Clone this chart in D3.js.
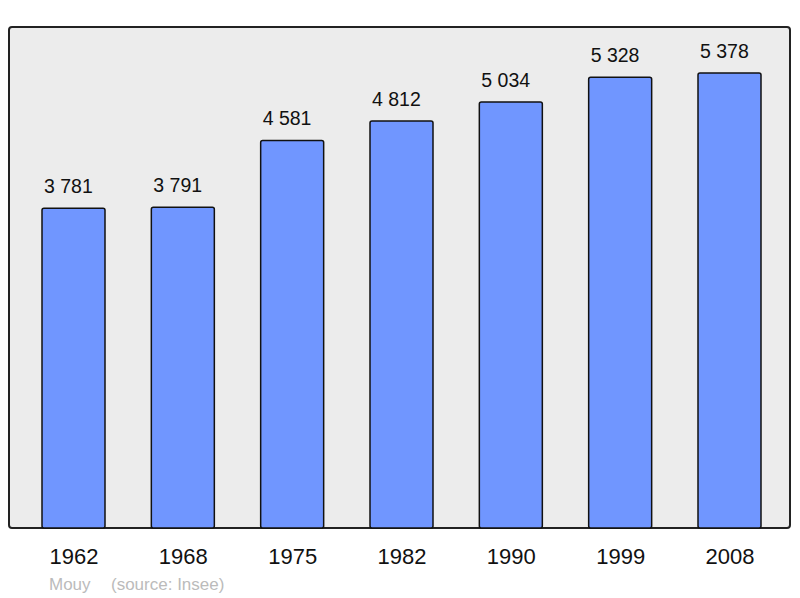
<!DOCTYPE html>
<html><head><meta charset="utf-8">
<script src="https://cdn.jsdelivr.net/npm/d3@7"></script>
<style>body{margin:0;background:#fff}svg{display:block}text{font-family:"Liberation Sans",Arial,sans-serif}</style>
</head><body>
<svg id="c" width="800" height="598"></svg>
<script>
const years = ["1962","1968","1975","1982","1990","1999","2008"];
const population = [3781,3791,4581,4812,5034,5328,5378];
const labels = ["3 781","3 791","4 581","4 812","5 034","5 328","5 378"];
const town = "Mouy";
const source = "(source: Insee)";

const svg = d3.select("#c");
const plot = {x0:9, x1:790, y0:27, y1:528};
svg.append("rect").attr("x",plot.x0).attr("y",plot.y0)
  .attr("width",plot.x1-plot.x0).attr("height",plot.y1-plot.y0)
  .attr("rx",3).attr("fill","#ececec").attr("stroke","#222").attr("stroke-width",2);

const x = d3.scalePoint().domain(years).range([73.5,729.5]);
const bw = 63;
const y = d3.scaleLinear().domain([0,5922]).range([plot.y1,plot.y0]);

svg.selectAll("rect.bar").data(years).join("rect").attr("class","bar")
  .attr("x",d=>x(d)-bw/2).attr("y",(d,i)=>y(population[i]))
  .attr("width",bw).attr("height",(d,i)=>plot.y1-y(population[i]))
  .attr("rx",2).attr("fill","#7096ff").attr("stroke","#111").attr("stroke-width",1.5);

svg.selectAll("text.val").data(years).join("text").attr("class","val")
  .attr("x",d=>x(d)-bw/2+2).attr("y",(d,i)=>y(population[i])-15)
  .attr("text-anchor","start").attr("font-size",19.5).attr("fill","#111")
  .text((d,i)=>labels[i]);

const xAxis = svg.append("g").attr("transform",`translate(0,${plot.y1})`)
  .call(d3.axisBottom(x).tickSize(0).tickPadding(0));
xAxis.select(".domain").remove();
xAxis.selectAll("text").attr("y",36).attr("dy",0).attr("font-size",22)
  .attr("fill","#111").style("font-family","'Liberation Sans',Arial,sans-serif");

svg.append("text").attr("x",49).attr("y",590).attr("font-size",17).attr("fill","#bbb").text(town);
svg.append("text").attr("x",111).attr("y",590).attr("font-size",17).attr("fill","#bbb").text(source);
</script>
</body></html>
